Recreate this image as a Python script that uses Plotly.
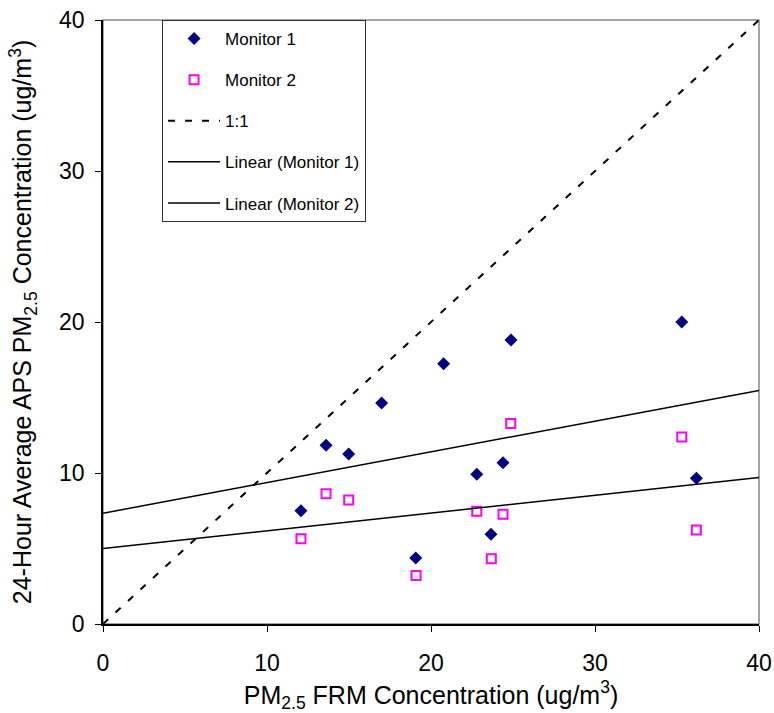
import numpy as np
import plotly.graph_objects as go

# values
frm_1 = [12.07, 13.6, 14.98, 16.99, 19.07, 20.77, 22.79, 24.39, 23.66, 24.88, 35.29, 36.18]
aps_1 = [7.5, 11.83, 11.26, 14.64, 4.37, 17.24, 9.91, 10.68, 5.94, 18.81, 20.0, 9.65]

frm_2 = [12.07, 13.6, 14.98, 19.09, 22.79, 24.39, 23.68, 24.86, 35.29, 36.18]
aps_2 = [5.65, 8.63, 8.21, 3.22, 7.46, 7.26, 4.32, 13.27, 12.38, 6.23]

line_x = [0, 40]

# linear trendlines (least squares, like Excel's "Linear" trendline)
m1, b1 = np.polyfit(frm_1, aps_1, 1)
m2, b2 = np.polyfit(frm_2, aps_2, 1)
trend_1 = [b1 + m1 * x for x in line_x]
trend_2 = [b2 + m2 * x for x in line_x]

fig = go.Figure()

fig.add_trace(go.Scatter(
    x=frm_1, y=aps_1, mode="markers", name="Monitor 1", legendgroup="a",
    marker=dict(symbol="diamond", size=10, color="#000080")
))
fig.add_trace(go.Scatter(
    x=frm_2, y=aps_2, mode="markers", name="Monitor 2", legendgroup="b",
    marker=dict(symbol="square-open", size=9, color="#FF00FF", line=dict(width=2))
))
fig.add_trace(go.Scatter(
    x=line_x, y=line_x, mode="lines", name="1:1", legendgroup="c",
    line=dict(color="black", width=2, dash="7px,10px")
))
fig.add_trace(go.Scatter(
    x=line_x, y=trend_1, mode="lines", name="Linear (Monitor 1)", legendgroup="d",
    line=dict(color="black", width=1.5)
))
fig.add_trace(go.Scatter(
    x=line_x, y=trend_2, mode="lines", name="Linear (Monitor 2)", legendgroup="e",
    line=dict(color="black", width=1.5)
))

tick_font = dict(family="Liberation Sans, Arial, sans-serif", size=23, color="black")

fig.update_layout(
    width=774, height=713,
    margin=dict(l=103, r=15, t=20, b=89, autoexpand=False),
    plot_bgcolor="white",
    paper_bgcolor="white",
    font=dict(family="Liberation Sans, Arial, sans-serif", color="black"),
    showlegend=True,
    legend=dict(
        x=0.09, y=1, xanchor="left", yanchor="top",
        bgcolor="white", bordercolor="#333", borderwidth=1,
        font=dict(size=17), tracegroupgap=16, traceorder="grouped",
        itemwidth=52,
    ),
    xaxis=dict(
        range=[0, 40], dtick=10, showgrid=False, zeroline=False,
        showline=True, linecolor="black", linewidth=1.5,
        ticks="outside", ticklen=6, tickcolor="black", tickfont=tick_font,
        ticklabelstandoff=12, automargin=True, ticklabeloverflow="allow",
        title=dict(text="PM<sub>2.5</sub> FRM Concentration (ug/m<sup>3</sup>)",
                   font=dict(size=25), standoff=16),
    ),
    yaxis=dict(
        range=[0, 40], dtick=10, showgrid=False, zeroline=False,
        showline=True, linecolor="black", linewidth=1.5,
        ticks="outside", ticklen=6, tickcolor="black", tickfont=tick_font,
        ticklabelstandoff=6, automargin=False, ticklabeloverflow="allow",
        title=dict(text="24-Hour Average APS PM<sub>2.5</sub> Concentration (ug/m<sup>3</sup>)",
                   font=dict(size=25), standoff=20),
    ),
    shapes=[dict(type="rect", xref="paper", yref="paper", x0=0, x1=1, y0=0, y1=1,
                 line=dict(color="#888", width=1.5), layer="below")],
)

# drop the default body margin so the figure fills the window exactly
fig.write_html("out.html", config={"displayModeBar": False},
               post_script="document.body.style.margin = '0px';")
